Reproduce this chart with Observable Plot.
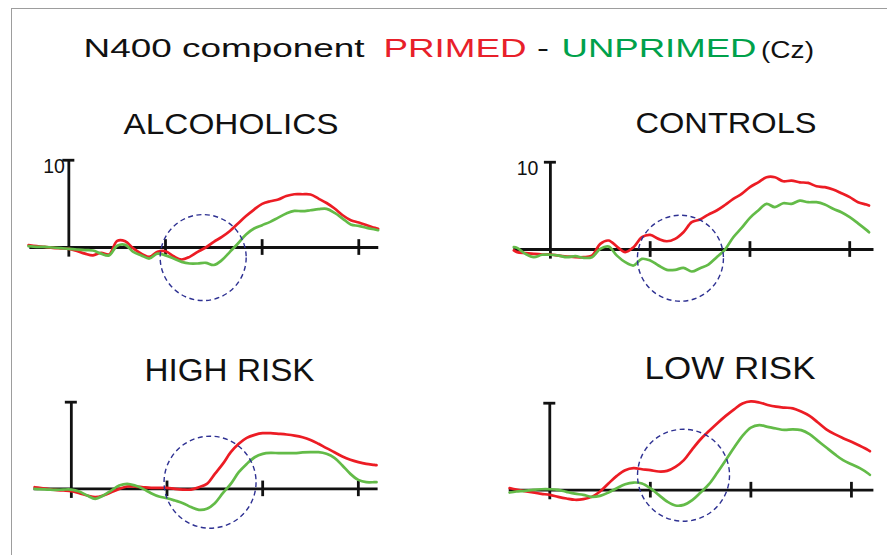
<!DOCTYPE html>
<html><head><meta charset="utf-8">
<script src="https://cdn.jsdelivr.net/npm/d3@7"></script>
<script src="https://cdn.jsdelivr.net/npm/@observablehq/plot@0.6"></script>
<style>
html,body{margin:0;padding:0;background:#fff;}
#root{position:relative;width:887px;height:555px;overflow:hidden;font-family:"Liberation Sans",Arial,sans-serif;background:#fff;}
#frame{position:absolute;left:11px;top:8px;right:-5px;bottom:-5px;border-top:1.6px solid #9d9d9d;border-left:1.6px solid #9d9d9d;}
#overlay{position:absolute;left:0;top:0;pointer-events:none;}
</style></head><body><div id="root"><div id="frame"></div></div>
<script>
// ---- data (time in ms, amplitude in µV) ----
const panelNames = ["ALCOHOLICS", "CONTROLS", "HIGH RISK", "LOW RISK"];
const xTicks = [0, 300, 600, 900];
const yTopTick = 10;

const alcTime = [-125,-100,-75,-50,-25,0,25,50,75,100,125,150,175,200,225,250,275,300,325,350,375,400,425,450,475,500,525,550,575,600,625,650,675,700,725,750,775,800,825,850,875,900,925,950,960];
const alcPrimed = [0.27,0.15,0.08,-0.04,-0.1,-0.15,-0.4,-0.7,-0.9,-0.6,-0.8,0.76,0.72,-0.1,-0.7,-1.07,-0.5,-0.42,-1.0,-1.37,-1.07,-0.5,0,0.65,1.22,1.9,2.75,3.6,4.35,5.0,5.3,5.5,5.9,6.1,6.1,6.07,5.6,5.1,4.47,3.7,3.13,2.86,2.56,2.25,2.14];
const alcUnprimed = [0.15,0.08,0.08,0,-0.08,-0.15,-0.23,-0.3,-0.34,-0.7,-0.9,0.2,0.3,-0.5,-0.9,-1.26,-0.7,-0.9,-1.26,-1.64,-1.83,-1.83,-1.75,-2.0,-1.45,-0.5,0.46,1.5,2.18,2.56,2.94,3.43,3.9,4.2,4.16,4.27,4.39,4.43,3.97,3.32,2.63,2.48,2.25,2.06,1.98];

const conTime = [-110,-100,-75,-50,-25,0,25,50,75,100,125,150,175,200,225,250,275,300,325,350,375,400,425,450,475,500,525,550,575,600,625,650,675,700,725,750,775,800,825,850,875,900,925,950,958];
const conPrimed = [-0.1,-0.3,-0.4,-0.5,-0.57,-0.57,-0.7,-0.8,-0.88,-0.88,-0.7,0.65,1.03,0.34,-0.3,0.27,1.41,1.68,1.22,0.95,1.22,1.98,3.13,3.44,4.0,4.47,5.1,5.8,6.37,7.14,7.7,8.28,8.28,7.82,7.9,7.7,7.63,7.25,7.14,6.87,6.45,6.0,5.42,5.15,5.04];
const conUnprimed = [0.27,0.19,-0.5,-0.88,-0.6,-0.6,-0.7,-0.88,-0.76,-0.95,-0.88,0.08,0.34,-0.7,-1.45,-1.83,-1.07,-1.26,-1.83,-2.33,-2.33,-2.1,-2.52,-2.14,-1.72,-0.88,0,1.41,2.48,3.63,4.47,5.23,4.85,5.3,5.23,5.6,5.42,5.42,5.15,4.66,4.27,3.7,3.0,2.25,1.98];

const highTime = [-115,-100,-75,-50,-25,0,25,50,75,100,125,150,175,200,225,250,275,300,325,350,375,400,425,450,475,500,525,550,575,600,625,650,675,700,725,750,775,800,825,850,875,900,925,950,957];
const highPrimed = [0.19,0.12,0,-0.12,-0.19,-0.27,-0.5,-0.77,-0.96,-0.77,-0.38,0,0.27,0.27,0.19,0.12,0.12,0.12,0,-0.08,-0.08,0.19,0.58,1.73,2.88,4.23,5.2,5.88,6.23,6.42,6.42,6.35,6.27,6.15,5.96,5.65,5.2,4.7,4.23,3.73,3.35,3.08,2.88,2.77,2.73];
const highUnprimed = [0,-0.04,-0.08,-0.12,-0.08,-0.08,-0.31,-0.77,-1.15,-0.77,-0.2,0.38,0.58,0.38,0,-0.5,-0.88,-1.08,-1.35,-1.65,-2.1,-2.42,-2.3,-1.65,-0.5,0.58,1.92,2.88,3.65,4.04,4.15,4.12,4.12,4.12,4.2,4.23,4.23,4.04,3.58,2.7,1.73,1.04,0.77,0.77,0.77];

const lowTime = [-120,-100,-75,-50,-25,0,25,50,75,100,125,150,175,200,225,250,275,300,325,350,375,400,425,450,475,500,525,550,575,600,625,650,675,700,725,750,775,800,825,850,875,900,925,950,955];
const lowPrimed = [0.23,0.08,-0.1,-0.27,-0.42,-0.54,-0.77,-0.96,-1.1,-1.03,-0.77,-0.15,0.77,1.65,2.3,2.53,2.41,2.3,2.15,2.22,2.68,3.45,4.7,5.86,6.8,7.7,8.54,9.3,9.96,10.2,10.08,9.8,9.6,9.5,9.4,9.04,8.54,7.78,7.0,6.44,5.98,5.56,5.1,4.6,4.48];
const lowUnprimed = [-0.27,-0.15,-0.08,0.04,0.11,0.11,0.04,-0.19,-0.4,-0.54,-0.77,-0.65,-0.27,0.23,0.69,0.88,0.77,0.23,-0.54,-1.3,-1.76,-1.69,-1.15,-0.27,0.69,2.03,3.45,4.9,6.25,7.2,7.47,7.28,7.09,6.93,7.0,6.9,6.44,5.67,4.9,4.14,3.45,2.99,2.53,1.92,1.76];

// N400 window circles (centre time, centre amplitude)
const circleTime = [417, 391, 435, 399];
const circleValue = [-1.15, -1.0, 0.77, 1.72];

// ---- styling / layout ----
const RED = "#ec1c24", GREEN = "#63bb48", NAVY = "#2e3192", INK = "#111";
const FONT = "'Liberation Sans', Arial, sans-serif";
const layout = [
  {x0: 68.3, y0: 247.3, kx: 0.3222, ky: 8.73, r: 43, label: true,  labelDx: -4,  ext: [-121, 962]},
  {x0: 550,  y0: 249,   kx: 0.3326, ky: 8.73, r: 43, label: true,  labelDx: -12, ext: [-110, 973]},
  {x0: 70.7, y0: 488.3, kx: 0.3189, ky: 8.67, r: 46, label: false, labelDx: 0,   ext: [-117, 962]},
  {x0: 549,  y0: 489.3, kx: 0.3352, ky: 8.70, r: 46, label: false, labelDx: 0,   ext: [-121, 967]}
];
const series = [
  [alcTime, alcPrimed, alcUnprimed],
  [conTime, conPrimed, conUnprimed],
  [highTime, highPrimed, highUnprimed],
  [lowTime, lowPrimed, lowUnprimed]
];
const xd = [-150, 1000], yd = [-4, 11];
const root = document.getElementById("root");

series.forEach(([time, primed, unprimed], i) => {
  const L = layout[i];
  const width = (xd[1] - xd[0]) * L.kx;
  const height = (yd[1] - yd[0]) * L.ky;
  const tickHalf = 6 / L.kx;
  const primedData = time.map((t, j) => ({t, v: primed[j]}));
  const unprimedData = time.map((t, j) => ({t, v: unprimed[j]}));
  const circle = [{t: circleTime[i], v: circleValue[i]}];
  const axisStyle = {stroke: INK, strokeWidth: 2.8};
  const chart = Plot.plot({
    width, height,
    marginTop: 0, marginRight: 0, marginBottom: 0, marginLeft: 0,
    x: {domain: xd, axis: null},
    y: {domain: yd, axis: null},
    style: {background: "transparent", overflow: "visible", maxWidth: "none", fontFamily: FONT},
    marks: [
      Plot.ruleY([0], {x1: L.ext[0], x2: L.ext[1], ...axisStyle}),
      Plot.ruleX([xTicks[0]], {y1: -1.1, y2: yTopTick, ...axisStyle}),
      Plot.ruleY([yTopTick], {x1: -tickHalf, x2: tickHalf, ...axisStyle}),
      Plot.ruleX(xTicks.slice(1), {y1: -0.9, y2: 0.9, ...axisStyle}),
      L.label ? Plot.text([yTopTick], {x: 0, y: d => d, text: d => String(d), textAnchor: "end", lineAnchor: "top", dx: L.labelDx, dy: -1, fill: INK}) : null,
      Plot.line(primedData, {x: "t", y: "v", stroke: RED, strokeWidth: 2.7, curve: "catmull-rom"}),
      Plot.line(unprimedData, {x: "t", y: "v", stroke: GREEN, strokeWidth: 2.7, curve: "catmull-rom"}),
      Plot.dot(circle, {x: "t", y: "v", r: L.r, stroke: NAVY, fill: "none", strokeWidth: 1.4, strokeDasharray: "5,3.5"})
    ]
  });
  chart.style.position = "absolute";
  chart.style.left = (L.x0 + xd[0] * L.kx) + "px";
  chart.style.top = (L.y0 - yd[1] * L.ky) + "px";
  chart.querySelectorAll("text").forEach(t => { t.style.fontSize = "19.5px"; t.style.fontFamily = FONT; });
  root.appendChild(chart);
});

// ---- titles ----
const NS = "http://www.w3.org/2000/svg";
const svg = document.createElementNS(NS, "svg");
svg.setAttribute("id", "overlay");
svg.setAttribute("width", 887);
svg.setAttribute("height", 555);
const addText = (str, x, y, size, len, fill = INK) => {
  const t = document.createElementNS(NS, "text");
  t.setAttribute("x", x); t.setAttribute("y", y);
  t.setAttribute("font-size", size);
  t.setAttribute("font-family", FONT);
  t.setAttribute("fill", fill);
  t.setAttribute("textLength", len);
  t.setAttribute("lengthAdjust", "spacingAndGlyphs");
  t.textContent = str;
  svg.appendChild(t);
};
addText("N400 component", 83.5, 57, 26, 281);
addText("PRIMED", 383.5, 57, 26, 143, "#e8202a");
addText("-", 537, 57, 26, 12);
addText("UNPRIMED", 561.5, 57, 26, 195, "#00a14b");
addText("(Cz)", 761, 58, 24, 53);
const titlePos = [[123.5, 133.5, 30, 215], [635.5, 133, 30, 181], [144.5, 381, 32, 170], [644.5, 378.5, 32, 171]];
panelNames.forEach((n, i) => addText(n, ...titlePos[i]));
root.appendChild(svg);
</script>
</body></html>
